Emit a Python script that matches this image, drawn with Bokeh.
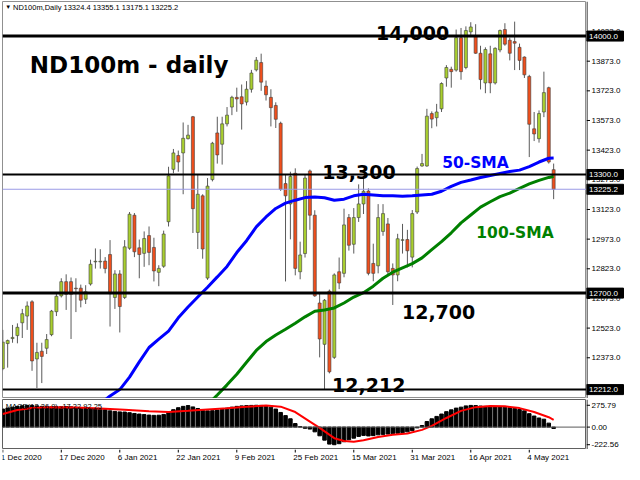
from bokeh.plotting import figure
from bokeh.layouts import column, row
from bokeh.models import Span, Label, Range1d
from bokeh.embed import file_html
from bokeh.resources import INLINE
from bokeh.core.properties import value

# ---------------- data ----------------
opens = [12318, 12445, 12470, 12485, 12550, 12584, 12656, 12367, 12406, 12421,
         12490, 12606, 12686, 12758, 12758, 12725, 12725, 12669, 12746, 12858,
         12858, 12862, 12895, 12678, 12797, 12678, 12927, 13094, 12929, 12901,
         12991, 12931, 12805, 12836, 13061, 13326, 13396, 13409, 13481, 13592,
         13007, 13192, 12776, 13274, 13510, 13453, 13556, 13641, 13690, 13693,
         13666, 13731, 13829, 13866, 13747, 13690, 13649, 13559, 13254, 13151,
         13306, 12808, 12900, 13318, 13094, 12650, 12441, 12710, 12375, 12808,
         12800, 13082, 12947, 13082, 13151, 13216, 12850, 12838, 13012, 13050,
         12825, 12792, 12967, 12971, 12882, 13110, 13343, 13343, 13608, 13587,
         13632, 13788, 13832, 13828, 13992, 13841, 14021, 14000, 13913, 13763,
         13910, 13763, 13930, 14033, 13979, 13972, 13943, 13894, 13796, 13531,
         13481, 13616, 13739, 13324.4]
highs = [12514, 12465, 12539, 12547, 12620, 12658, 12664, 12449, 12449, 12493,
         12615, 12702, 12775, 12795, 12779, 12775, 12743, 12740, 12869, 12926,
         12922, 12882, 12968, 12816, 12816, 12968, 13110, 13105, 12971, 13012,
         13037, 12980, 12841, 13016, 13339, 13429, 13421, 13563, 13551, 13596,
         13298, 13200, 13282, 13465, 13592, 13592, 13641, 13698, 13739, 13755,
         13772, 13829, 13894, 13911, 13775, 13731, 13665, 13567, 13298, 13314,
         13331, 12960, 13300, 13325, 13119, 12700, 12670, 12718, 12800, 12880,
         13127, 13100, 13130, 13250, 13290, 13230, 12950, 13150, 13150, 13080,
         12850, 13000, 13050, 13020, 13120, 13340, 13404, 13632, 13619, 13657,
         13766, 13853, 13845, 14033, 14041, 14049, 14070, 14060, 13951, 13943,
         13951, 13943, 14033, 14065, 13992, 14073, 13962, 13897, 13804, 13616,
         13624, 13820, 13744, 13355.1]
lows = [12310, 12323, 12449, 12446, 12473, 12514, 12307, 12220, 12245, 12392,
        12482, 12584, 12678, 12615, 12468, 12604, 12628, 12645, 12738, 12824,
        12824, 12800, 12531, 12620, 12501, 12670, 12919, 12882, 12775, 12833,
        12841, 12759, 12735, 12828, 13037, 13306, 13314, 13200, 13477, 13004,
        12923, 12874, 12767, 13265, 13355, 13350, 13543, 13600, 13617, 13527,
        13649, 13714, 13821, 13723, 13674, 13543, 13535, 13217, 12759, 12972,
        12790, 12770, 12880, 13020, 12681, 12375, 12215, 12294, 12367, 12720,
        12780, 12915, 12900, 13060, 13100, 12790, 12760, 12800, 12990, 12790,
        12640, 12760, 12900, 12830, 12830, 13100, 13339, 13339, 13534, 13543,
        13616, 13744, 13739, 13820, 13779, 13832, 13995, 13910, 13730, 13711,
        13711, 13755, 13918, 13951, 13877, 13828, 13828, 13788, 13388, 13469,
        13461, 13590, 13355, 13175.1]
closes = [12452, 12460, 12476, 12527, 12596, 12635, 12357, 12400, 12380, 12465,
          12609, 12684, 12758, 12694, 12694, 12722, 12664, 12707, 12846, 12861,
          12861, 12824, 12697, 12797, 12632, 12934, 13099, 12909, 12895, 12976,
          12906, 12812, 12825, 12999, 13293, 13409, 13363, 13483, 13499, 13127,
          13200, 12923, 13241, 13458, 13399, 13556, 13600, 13690, 13682, 13657,
          13731, 13813, 13878, 13767, 13703, 13638, 13579, 13225, 13192, 13290,
          12825, 12893, 13282, 13094, 12686, 12468, 12664, 12302, 12792, 12751,
          13045, 12942, 13082, 13151, 13215, 12800, 12800, 13082, 13102, 12808,
          12792, 12975, 12970, 12914, 13102, 13330, 13355, 13595, 13580, 13616,
          13760, 13841, 13820, 13992, 13820, 14028, 14046, 13913, 13780, 13932,
          13763, 13938, 14028, 13959, 13913, 13964, 13877, 13804, 13554, 13505,
          13608, 13714, 13363, 13225.2]

sma50_bars = [21, 22, 24, 26, 28, 30, 32, 34, 36, 38, 40, 42, 44, 46, 48, 50, 52, 54,
              56, 58, 60, 62, 64, 66, 68, 70, 72, 74, 76, 78, 80, 82, 84, 86, 88, 90,
              92, 94, 96, 98, 100, 102, 104, 106, 108, 110, 112, 113]
sma50_vals = [12160, 12180, 12212, 12275, 12352, 12425, 12467, 12508, 12575, 12630,
              12680, 12730, 12782, 12835, 12905, 12965, 13035, 13085, 13128, 13155,
              13170, 13183, 13186, 13182, 13170, 13175, 13192, 13200, 13196, 13192,
              13192, 13190, 13192, 13196, 13200, 13215, 13240, 13260, 13272, 13285,
              13295, 13305, 13315, 13322, 13340, 13363, 13382, 13383]
sma100_bars = [43, 44, 46, 48, 50, 52, 54, 56, 58, 60, 62, 64, 66, 68, 70, 72, 74, 76,
               78, 80, 82, 84, 86, 88, 90, 92, 94, 96, 98, 100, 102, 104, 106, 108, 110,
               112, 113]
sma100_vals = [12160, 12185, 12236, 12290, 12350, 12410, 12455, 12488, 12517, 12548,
               12580, 12608, 12615, 12625, 12650, 12680, 12702, 12735, 12775, 12806,
               12828, 12849, 12878, 12920, 12960, 13005, 13055, 13095, 13135, 13162,
               13188, 13206, 13230, 13252, 13270, 13285, 13290]

macd_hist = [228, 240, 252, 262, 270, 275, 274, 268, 262, 258,
             256, 256, 258, 260, 256, 250, 244, 238, 234, 230,
             226, 220, 205, 198, 192, 190, 182, 172, 165, 158,
             152, 148, 150, 160, 190, 220, 245, 262, 272, 255,
             235, 212, 205, 208, 215, 228, 240, 252, 262, 268,
             272, 274, 275.79, 274, 268, 252, 228, 185, 145, 105,
             45, 5, -15, -25, -60, -110, -165, -215, -222.56, -210,
             -185, -160, -140, -118, -105, -112, -108, -98, -92, -88,
             -84, -78, -70, -60, -45, -10, 20, 70, 105, 135,
             165, 195, 218, 240, 252, 268, 274, 272, 266, 262,
             260, 258, 256, 252, 245, 236, 222, 205, 170, 140,
             115, 100, 50, -17.22]
signal_bars = [0, 3, 6, 10, 15, 20, 25, 30, 34, 38, 42, 46, 50, 54, 57, 60, 63, 65, 68,
               70, 72, 74, 77, 80, 83, 86, 88, 91, 94, 97, 100, 103, 106, 109, 112, 113]
signal_vals = [166, 215, 240, 250, 248, 236, 220, 200, 190, 205, 222, 238, 258, 272,
               258, 190, 70, -10, -140, -175, -185, -165, -125, -98, -82, -35, 15, 115,
               205, 252, 266, 262, 240, 190, 125, 92.25]

price_ticks = [14023, 13873, 13723, 13573, 13423, 13273, 13123, 12973, 12823, 12673,
               12523, 12373]
level_prices = [14000, 13300, 12700, 12212]
bid_price = 13225.2
macd_ticks = [275.79, 0.0, -222.56]
date_tick_bars = [0, 12, 24, 36, 48, 60, 72, 84, 96, 108]
date_tick_labels = ["1 Dec 2020", "17 Dec 2020", "6 Jan 2021", "22 Jan 2021", "9 Feb 2021",
                    "25 Feb 2021", "15 Mar 2021", "31 Mar 2021", "16 Apr 2021", "4 May 2021"]

# ---------------- styling ----------------
BULL = "#a9cf2f"
BEAR = "#f04f1c"
AXFONT = "Liberation Sans"
BIG = "DejaVu Sans"
MAIN_W = 586
AX_W = 38
H1 = 398
H2 = 51
H3 = 15

xr = Range1d(-0.06, 119.74)
yr1 = Range1d(12167.0, 14174.8)
yr2 = Range1d(-283.1, 348.7)


def bare(p):
    p.xgrid.visible = False
    p.ygrid.visible = False
    p.background_fill_color = "white"
    p.border_fill_color = "white"


p1 = figure(width=MAIN_W, height=H1, x_range=xr, y_range=yr1,
            output_backend="svg", toolbar_location=None, x_axis_location=None,
            y_axis_location=None, min_border_left=2, min_border_right=0,
            min_border_top=1, min_border_bottom=0)
bare(p1)
p1.outline_line_color = "#909090"

idx = list(range(len(opens)))
body_top = [max(o, c) for o, c in zip(opens, closes)]
body_bot = [min(o, c) for o, c in zip(opens, closes)]
body_col = [BULL if c > o else (BEAR if c < o else "#000000") for o, c in zip(opens, closes)]

for lv, lw in zip(level_prices, [3, 2, 3, 2]):
    p1.add_layout(Span(location=lv, dimension="width", line_color="black", line_width=lw))
p1.add_layout(Span(location=bid_price, dimension="width", line_color="#9a9ae6", line_width=1))

p1.segment(x0=idx, y0=highs, x1=idx, y1=lows, line_color="#5a5a5a", line_width=1)
p1.vbar(x=idx, width=0.62, top=body_top, bottom=body_bot, fill_color=body_col,
        line_color="#3c3c3c", line_width=0.6)

p1.line(sma50_bars, sma50_vals, line_color="#0000ff", line_width=3)
p1.line(sma100_bars, sma100_vals, line_color="#008000", line_width=3)


def ann(p, x, y, text, size, color="black", font=BIG, style="bold", baseline="alphabetic"):
    p.add_layout(Label(x=x, y=y, text=text, text_font=font, text_font_size=size,
                       text_font_style=style, text_color=color, text_baseline=baseline,
                       text_align="left"))


ann(p1, 5.54, 13854, "ND100m - daily", "23px")
ann(p1, 76.54, 14018, "14,000", "19px")
ann(p1, 65.54, 13314, "13,300", "19px")
ann(p1, 81.88, 12604, "12,700", "19px")
ann(p1, 67.54, 12236, "12,212", "19px")
ann(p1, 90.14, 13356, "50-SMA", "15.5px", color="#0000ff")
ann(p1, 97.14, 13004, "100-SMA", "15.5px", color="#008000")

ann(p1, 0.5, 14145, "\u25BC", "6px", font=AXFONT, style="normal", baseline="middle")
ann(p1, 2.1, 14145, "ND100m,Daily  %.1f %.1f %.1f %.1f" % (opens[-1], highs[-1], lows[-1], closes[-1]),
    "7.5px", font=AXFONT, style="normal", baseline="middle")


def axis_fig(yr, height, top, bottom, ticks, fmt, highlights):
    a = figure(width=AX_W, height=height, x_range=Range1d(0, AX_W), y_range=yr,
               output_backend="svg", toolbar_location=None, x_axis_location=None,
               y_axis_location=None, min_border_left=0, min_border_right=0,
               min_border_top=top, min_border_bottom=bottom)
    bare(a)
    a.outline_line_color = None
    a.add_layout(Span(location=0.5, dimension="height", line_color="black", line_width=1))
    n = len(ticks)
    a.segment(x0=[0] * n, y0=ticks, x1=[3.5] * n, y1=ticks, line_color="black", line_width=1)
    a.text(x=[5] * n, y=ticks, text=[fmt % t for t in ticks], text_font=value(AXFONT),
           text_font_size="8px", text_baseline="middle", text_color="black")
    if highlights:
        m = len(highlights)
        a.rect(x=[18.5] * m, y=highlights, width=37, height=10, height_units="screen",
               fill_color="black", line_color="black")
        a.text(x=[2.5] * m, y=highlights, text=[fmt % h for h in highlights],
               text_font=value(AXFONT), text_font_size="8px", text_baseline="middle",
               text_color="white")
    return a


a1 = axis_fig(yr1, H1, 1, 0, price_ticks, "%.1f", level_prices + [bid_price])

# ---------------- MACD panel ----------------
p2 = figure(width=MAIN_W, height=H2, x_range=xr, y_range=yr2,
            output_backend="svg", toolbar_location=None, y_axis_location=None,
            x_axis_location=None, min_border_left=2, min_border_right=0,
            min_border_top=1, min_border_bottom=0)
bare(p2)
p2.outline_line_color = "#606060"

p2.add_layout(Span(location=0, dimension="width", line_color="#5a5a5a", line_width=1))
p2.vbar(x=idx, top=macd_hist, bottom=0, width=0.72, fill_color="black", line_color="black")
p2.line(signal_bars, signal_vals, line_color="#ff0000", line_width=2)
ann(p2, 0.6, 264, "MACD(12,26,9) %.2f %.2f" % (macd_hist[-1], signal_vals[-1]), "7.5px",
    font=AXFONT, style="normal", baseline="middle")

a2 = axis_fig(yr2, H2, 1, 0, macd_ticks, "%.2f", [])

# ---------------- time scale strip ----------------
p3 = figure(width=MAIN_W, height=H3, x_range=xr, y_range=Range1d(0, H3),
            output_backend="svg", toolbar_location=None, y_axis_location=None,
            x_axis_location=None, min_border_left=2, min_border_right=0,
            min_border_top=0, min_border_bottom=0)
bare(p3)
p3.outline_line_color = None
nt = len(date_tick_bars)
p3.segment(x0=date_tick_bars, y0=[H3] * nt, x1=date_tick_bars, y1=[H3 - 3] * nt,
           line_color="black", line_width=1)
p3.text(x=[b - 0.4 for b in date_tick_bars], y=[H3 - 7.5] * nt, text=date_tick_labels,
        text_font=value(AXFONT), text_font_size="8px", text_baseline="middle",
        text_align="left", text_color="black")

layout = column(row(p1, a1, spacing=0), row(p2, a2, spacing=0), p3, spacing=0)
open("out.html", "w").write(file_html(layout, INLINE))
